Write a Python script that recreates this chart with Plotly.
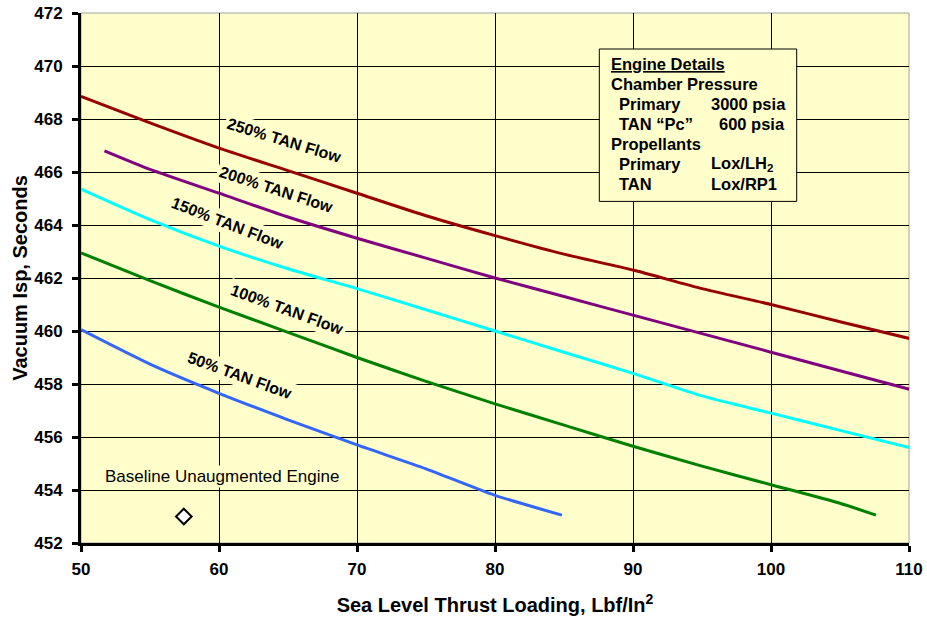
import plotly.graph_objects as go

# ---------------- data ----------------
x_250 = [50, 55, 60, 65, 70, 75, 80, 85, 90, 95, 100, 105, 110.4]
y_250 = [468.85, 467.85, 466.9, 466.05, 465.2, 464.35, 463.6, 462.9, 462.3, 461.6, 461.0, 460.35, 459.67]

x_200 = [51.7, 55, 60, 65, 70, 75, 80, 85, 90, 95, 100, 105, 110.4]
y_200 = [466.8, 466.1, 465.2, 464.3, 463.5, 462.75, 462.0, 461.3, 460.6, 459.9, 459.2, 458.5, 457.75]

x_150 = [50, 55, 60, 65, 70, 75, 80, 85, 90, 95, 100, 105, 110.4]
y_150 = [465.35, 464.2, 463.2, 462.35, 461.6, 460.8, 460.0, 459.2, 458.4, 457.55, 456.9, 456.25, 455.55]

x_100 = [50, 55, 60, 65, 70, 75, 80, 85, 90, 95, 100, 105, 107.6]
y_100 = [462.95, 461.9, 460.9, 459.95, 459.0, 458.1, 457.25, 456.45, 455.65, 454.9, 454.2, 453.5, 453.05]

x_50 = [50, 55, 60, 65, 70, 75, 80, 84.85]
y_50 = [460.05, 458.75, 457.65, 456.65, 455.7, 454.8, 453.8, 453.05]

baseline_x = [57.45]
baseline_y = [453.0]

series_names = ["250% TAN Flow", "200% TAN Flow", "150% TAN Flow", "100% TAN Flow", "50% TAN Flow"]
x_ticks = [50, 60, 70, 80, 90, 100, 110]
y_ticks = [452, 454, 456, 458, 460, 462, 464, 466, 468, 470, 472]

box_left_lines = ["<u>Engine Details</u>", "Chamber Pressure", "Primary", "TAN \u201cPc\u201d",
                  "Propellants", "Primary", "TAN"]
box_right_lines = ["", "", "3000 psia", "600 psia", "", "Lox/LH<sub>2</sub>", "Lox/RP1"]

# ---------------- styles ----------------
FONT = "Arial, Liberation Sans, sans-serif"
BG = "#FFFFCC"
colors = ["#990000", "#800080", "#00FFFF", "#008000", "#3366FF"]
xs = [x_250, x_200, x_150, x_100, x_50]
ys = [y_250, y_200, y_150, y_100, y_50]

fig = go.Figure()
for name, xv, yv, c in zip(series_names, xs, ys, colors):
    fig.add_trace(go.Scatter(x=xv, y=yv, mode="lines", name=name,
                             line=dict(color=c, width=3, shape="spline", smoothing=0.6)))

fig.add_trace(go.Scatter(x=baseline_x, y=baseline_y, mode="markers",
                         name="Baseline Unaugmented Engine",
                         marker=dict(symbol="diamond", size=12, color="white",
                                     line=dict(color="black", width=2))))

# rotated series labels (center positions, angles)
label_pos = [(64.75, 467.18, 17), (64.15, 465.33, 18), (60.65, 464.04, 21),
             (64.93, 460.83, 20), (61.5, 458.32, 20)]
for name, (lx, ly, ang) in zip(series_names, label_pos):
    fig.add_annotation(x=lx, y=ly, text=name, showarrow=False, textangle=ang,
                       bgcolor=BG, borderpad=2,
                       font=dict(family=FONT, size=16, color="black", weight="bold"))

fig.add_annotation(x=60.2, y=454.5, text="Baseline Unaugmented Engine", showarrow=False,
                   bgcolor=BG, borderpad=1,
                   font=dict(family=FONT, size=17, color="black"))

# engine details box (pixel positions -> paper fractions of plot area)
plot_l, plot_r, plot_t, plot_b = 81, 909, 13.3, 543.3
def px_x(p):
    return (p - plot_l) / (plot_r - plot_l)
def px_y(p):
    return (plot_b - p) / (plot_b - plot_t)

fig.add_shape(type="rect", xref="paper", yref="paper",
              x0=px_x(599.3), x1=px_x(796.7), y0=px_y(201.7), y1=px_y(49.3),
              fillcolor=BG, line=dict(color="black", width=1), layer="above")

left_x = [610, 610, 618, 618, 610, 618, 618]
right_x = [710, 710, 710, 718, 710, 710, 710]
for i, (lt, rt) in enumerate(zip(box_left_lines, box_right_lines)):
    yc = 64.5 + 20 * i
    fig.add_annotation(xref="paper", yref="paper", x=px_x(left_x[i]), y=px_y(yc),
                       xanchor="left", yanchor="middle", text=lt, showarrow=False,
                       borderpad=0,
                       font=dict(family=FONT, size=16.5, color="black", weight="bold"))
    if rt:
        fig.add_annotation(xref="paper", yref="paper", x=px_x(right_x[i]), y=px_y(yc),
                           xanchor="left", yanchor="middle", text=rt, showarrow=False,
                           borderpad=0,
                           font=dict(family=FONT, size=16.5, color="black", weight="bold"))

# gray frame (top/right)
fig.add_shape(type="rect", xref="paper", yref="paper", x0=0, x1=1, y0=0, y1=1,
              line=dict(color="#A0A0A0", width=1), layer="below")

axis_common = dict(showgrid=True, gridcolor="black", gridwidth=1, zeroline=False,
                   showline=True, linecolor="black", linewidth=3, automargin=False,
                   ticks="outside", ticklen=6, tickwidth=3, tickcolor="black",
                   ticklabeloverflow="allow",
                   tickfont=dict(family=FONT, size=17, color="black", weight="bold"))

fig.update_layout(
    template="none",
    width=927, height=619,
    margin=dict(l=81, r=18, t=13, b=76, pad=0),
    paper_bgcolor="white", plot_bgcolor=BG,
    showlegend=False,
    xaxis=dict(range=[50, 110], tickvals=x_ticks, ticklabelstandoff=3,
               title=dict(text="Sea Level Thrust Loading, Lbf/In<sup>2</sup>",
                          font=dict(family=FONT, size=20, color="black", weight="bold"),
                          standoff=20),
               **axis_common),
    yaxis=dict(range=[452, 472], tickvals=y_ticks, ticklabelstandoff=6,
               title=dict(text="Vacuum Isp, Seconds",
                          font=dict(family=FONT, size=20, color="black", weight="bold"),
                          standoff=2),
               **axis_common),
)

# remove the default 8px page margin so the figure fills the window exactly
fig.write_html("out.html", config={"displayModeBar": False},
               post_script="document.body.style.margin='0px';")
